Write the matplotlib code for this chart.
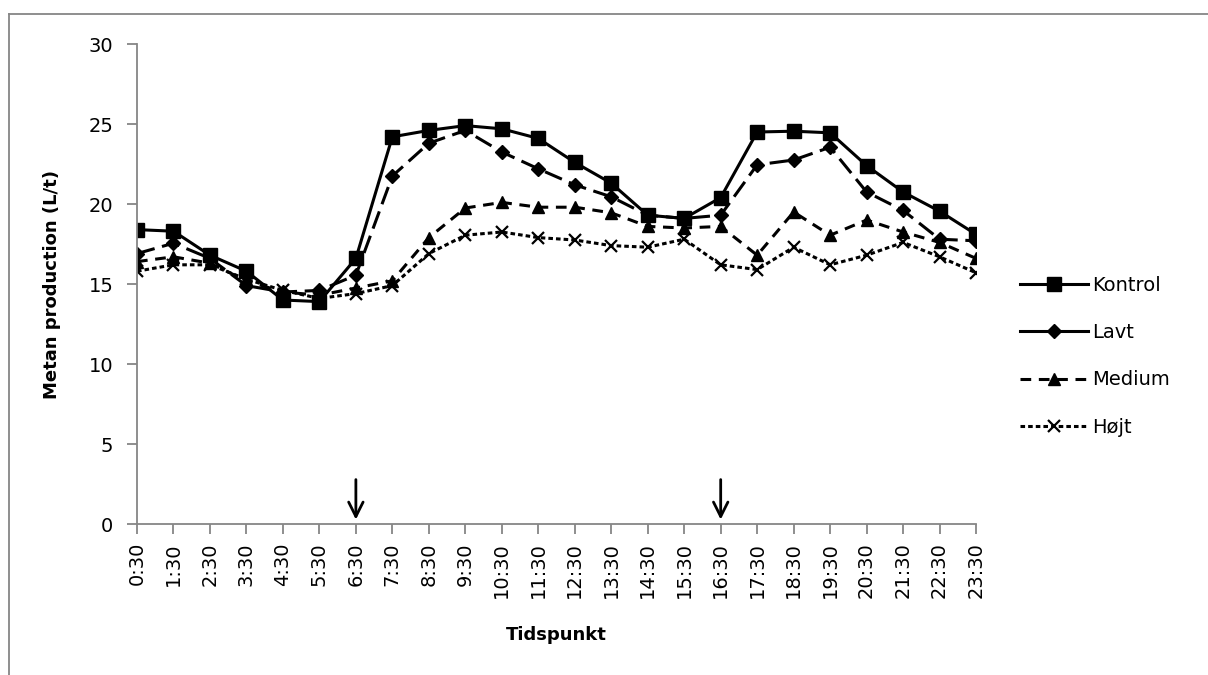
import numpy as np
import matplotlib
matplotlib.use("Agg")
import matplotlib.pyplot as plt
from matplotlib.lines import Line2D

plt.rcParams['font.family'] = ['DejaVu Sans']

tider = ['0:30', '1:30', '2:30', '3:30', '4:30', '5:30', '6:30', '7:30', '8:30',
         '9:30', '10:30', '11:30', '12:30', '13:30', '14:30', '15:30', '16:30',
         '17:30', '18:30', '19:30', '20:30', '21:30', '22:30', '23:30']

kontrol = [18.4, 18.3, 16.8, 15.8, 14.0, 13.9, 16.6, 24.2, 24.6, 24.9, 24.7, 24.1,
           22.6, 21.3, 19.3, 19.1, 20.4, 24.5, 24.55, 24.45, 22.4, 20.75, 19.55, 18.1]
lavt = [16.9, 17.55, 16.6, 14.9, 14.5, 14.6, 15.55, 21.75, 23.8, 24.6, 23.25, 22.2,
        21.2, 20.45, 19.3, 19.1, 19.3, 22.45, 22.75, 23.55, 20.75, 19.6, 17.8, 17.7]
medium = [16.4, 16.7, 16.3, 15.2, 14.5, 14.3, 14.75, 15.2, 17.9, 19.75, 20.1, 19.8,
          19.8, 19.45, 18.6, 18.5, 18.6, 16.8, 19.5, 18.05, 19.0, 18.25, 17.6, 16.6]
hojt = [15.8, 16.2, 16.2, 15.3, 14.6, 14.1, 14.4, 14.9, 16.9, 18.05, 18.25, 17.9,
        17.75, 17.4, 17.3, 17.8, 16.2, 15.9, 17.3, 16.2, 16.8, 17.6, 16.7, 15.7]

pile = ['6:30', '16:30']

fig = plt.figure(figsize=(12.08, 6.75), dpi=100)
ax = fig.add_axes([0.1134, 0.2237, 0.6946, 0.7111])

x = np.arange(len(tider))
lw = 2.2
ax.plot(x, kontrol, color='black', lw=lw, marker='s', ms=9.5, ls='-')
ax.plot(x, lavt, color='black', lw=lw, marker='D', ms=7, ls=(0, (6, 2.5)))
ax.plot(x, medium, color='black', lw=lw, marker='^', ms=8.5, ls=(0, (3.5, 2.5)))
ax.plot(x, hojt, color='black', lw=lw, marker='x', ms=8.5, mew=1.6, ls=(0, (1.5, 1)))

# pile ved fodring
for p in pile:
    i = tider.index(p)
    ax.annotate('', xy=(i, 0.1), xytext=(i, 2.95),
                arrowprops=dict(arrowstyle='->', color='black', lw=2,
                                mutation_scale=26))

ax.set_xlim(0, 23)
ax.set_ylim(0, 30)
ax.set_yticks(range(0, 31, 5))
ax.set_xticks(x)
ax.set_xticklabels(tider, rotation=90, fontsize=14)
ax.tick_params(axis='y', labelsize=14, colors='#868686', length=7, width=1.3,
               labelcolor='black', pad=10)
ax.tick_params(axis='x', colors='#868686', length=7, width=1.3, labelcolor='black', pad=6)
for s in ['top', 'right']:
    ax.spines[s].set_visible(False)
for s in ['left', 'bottom']:
    ax.spines[s].set_color('#868686')
    ax.spines[s].set_linewidth(1.3)

ax.set_ylabel('Metan production (L/t)', fontsize=13, fontweight='bold', labelpad=20)
ax.set_xlabel('Tidspunkt', fontsize=13, fontweight='bold', labelpad=20)

handles = [
    Line2D([], [], color='black', lw=lw, marker='s', ms=9.5, ls='-'),
    Line2D([], [], color='black', lw=lw, marker='D', ms=7, ls='-'),
    Line2D([], [], color='black', lw=lw, marker='^', ms=8.5, ls=(0, (3.5, 2.5))),
    Line2D([], [], color='black', lw=lw, marker='x', ms=8.5, mew=1.6, ls=(0, (1.5, 1))),
]
fig.legend(handles, ['Kontrol', 'Lavt', 'Medium', 'Højt'], loc='center left',
           bbox_to_anchor=(0.83, 0.472), frameon=False, fontsize=14,
           handlelength=3.5, handletextpad=0.2, labelspacing=1.45)

# ydre ramme
fig.add_artist(Line2D([0.0075, 0.0075], [0, 0.979], color='#868686', lw=1.3,
                      transform=fig.transFigure))
fig.add_artist(Line2D([0.0075, 1.0], [0.979, 0.979], color='#868686', lw=1.3,
                      transform=fig.transFigure))

fig.savefig('out.png', dpi=100)
